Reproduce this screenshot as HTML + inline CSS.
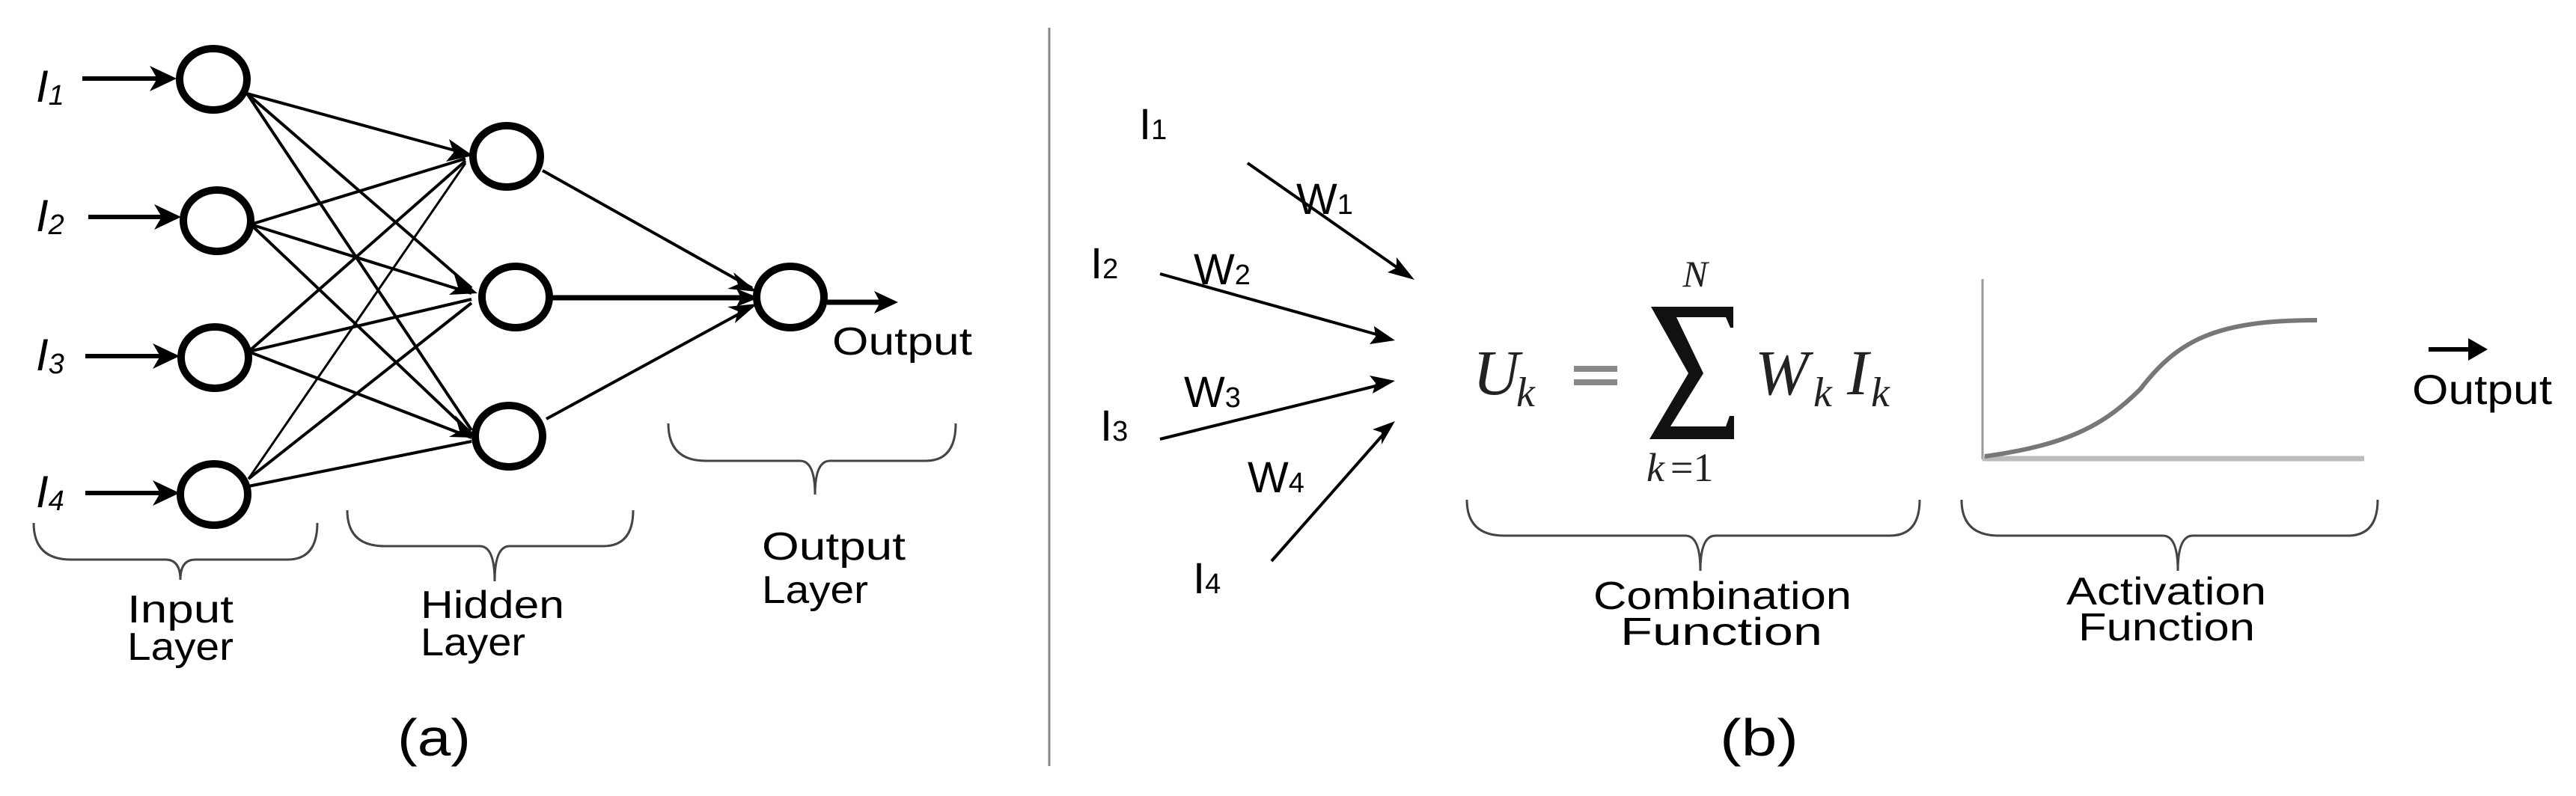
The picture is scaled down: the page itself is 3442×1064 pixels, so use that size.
<!DOCTYPE html>
<html><head><meta charset="utf-8"><style>html,body{margin:0;padding:0;background:#fff}svg{display:block}</style></head><body>
<svg width="3442" height="1064" viewBox="0 0 3442 1064" xmlns="http://www.w3.org/2000/svg" font-family="Liberation Sans, sans-serif">
<g id="a" stroke="#000" fill="none">
<g stroke-width="6">
<line x1="110" y1="105" x2="222" y2="105"/>
<line x1="118" y1="290" x2="228" y2="290"/>
<line x1="114" y1="476" x2="226" y2="476"/>
<line x1="114" y1="659" x2="226" y2="659"/>
<line x1="1105" y1="404" x2="1180" y2="404" stroke-width="7"/>
</g>
<g fill="#000" stroke="none">
<polygon points="236,105 200,88 210,105 200,122"/>
<polygon points="242,290 206,273 216,290 206,307"/>
<polygon points="240,476 204,459 214,476 204,493"/>
<polygon points="240,659 204,642 214,659 204,676"/>
<polygon points="1200,404 1168,389 1176,404 1168,419"/>
</g>
<g stroke-width="4">
<line x1="330" y1="125" x2="622" y2="205"/>
<line x1="330" y1="125" x2="630" y2="385"/>
<line x1="330" y1="125" x2="630" y2="575"/>
<line x1="335" y1="300" x2="622" y2="212"/>
<line x1="335" y1="300" x2="630" y2="392"/>
<line x1="335" y1="300" x2="630" y2="580"/>
<line x1="332" y1="470" x2="622" y2="215"/>
<line x1="332" y1="470" x2="630" y2="400"/>
<line x1="332" y1="470" x2="630" y2="585"/>
<line x1="332" y1="640" x2="622" y2="218" stroke-width="3"/>
<line x1="332" y1="640" x2="630" y2="405"/>
<line x1="332" y1="650" x2="630" y2="590"/>
<line x1="725" y1="228" x2="1005" y2="385"/>
<line x1="738" y1="398" x2="1005" y2="398" stroke-width="7"/>
<line x1="730" y1="560" x2="1005" y2="410"/>
</g>
<g fill="#000" stroke="none">
<polygon points="632,208 600,186 606,204 596,216"/>
<polygon points="638,392 606,364 612,384 600,394"/>
<polygon points="638,585 608,555 614,576 600,584"/>
<polygon points="1012,390 980,364 986,380 972,386"/>
<polygon points="1014,398 984,386 990,398 984,410"/>
<polygon points="1012,406 972,410 986,416 982,432"/>
</g>
<g stroke-width="10" fill="#fff">
<ellipse cx="285" cy="106" rx="45" ry="41"/>
<ellipse cx="290" cy="295" rx="45" ry="41"/>
<ellipse cx="287" cy="478" rx="45" ry="41"/>
<ellipse cx="286" cy="661" rx="45" ry="41"/>
<ellipse cx="677" cy="209" rx="45" ry="41"/>
<ellipse cx="689" cy="397" rx="45" ry="41"/>
<ellipse cx="680" cy="583" rx="45" ry="41"/>
<ellipse cx="1056" cy="397" rx="45" ry="41"/>
</g>
<g stroke="#444" stroke-width="3">
<path d="M45,699 Q45,748 95,748 L221,748 Q241,748 241,775 Q241,748 261,748 L384,748 Q424,748 424,699"/>
<path d="M464,682 Q464,730 514,730 L641,730 Q661,730 661,777 Q661,730 681,730 L806,730 Q846,730 846,682"/>
<path d="M893,566 Q893,616 943,616 L1069,616 Q1089,616 1089,661 Q1089,616 1109,616 L1237,616 Q1277,616 1277,566"/>
<path d="M1960,668 Q1960,716 2010,716 L2252,716 Q2272,716 2272,763 Q2272,716 2292,716 L2525,716 Q2565,716 2565,668"/>
<path d="M2621,668 Q2621,716 2671,716 L2890,716 Q2910,716 2910,763 Q2910,716 2930,716 L3137,716 Q3177,716 3177,668"/>
</g>
</g>
<g font-size="52" fill="#000">
<text x="1112" y="474" textLength="187" lengthAdjust="spacingAndGlyphs">Output</text>
<text x="170" y="832" textLength="142" lengthAdjust="spacingAndGlyphs">Input</text>
<text x="170" y="882" textLength="142" lengthAdjust="spacingAndGlyphs">Layer</text>
<text x="562" y="826" textLength="192" lengthAdjust="spacingAndGlyphs">Hidden</text>
<text x="562" y="876" textLength="140" lengthAdjust="spacingAndGlyphs">Layer</text>
<text x="1018" y="748" textLength="192" lengthAdjust="spacingAndGlyphs">Output</text>
<text x="1018" y="806" textLength="142" lengthAdjust="spacingAndGlyphs">Layer</text>
<text x="531" y="1010" font-size="70" textLength="98" lengthAdjust="spacingAndGlyphs">(a)</text>
<text x="2298" y="1010" font-size="70" textLength="105" lengthAdjust="spacingAndGlyphs">(b)</text>
<text x="2129" y="814" textLength="345" lengthAdjust="spacingAndGlyphs">Combination</text>
<text x="2165" y="862" textLength="270" lengthAdjust="spacingAndGlyphs">Function</text>
<text x="2761" y="808" textLength="267" lengthAdjust="spacingAndGlyphs">Activation</text>
<text x="2777" y="856" textLength="236" lengthAdjust="spacingAndGlyphs">Function</text>
<text x="3223" y="540" font-size="56" textLength="187" lengthAdjust="spacingAndGlyphs">Output</text>
</g>
<g font-style="italic" font-size="60" fill="#000">
<text x="48" y="136">I<tspan font-size="38" dy="4">1</tspan></text>
<text x="48" y="309">I<tspan font-size="38" dy="4">2</tspan></text>
<text x="48" y="495">I<tspan font-size="38" dy="4">3</tspan></text>
<text x="48" y="678">I<tspan font-size="38" dy="4">4</tspan></text>
</g>
<line x1="1402" y1="37" x2="1402" y2="1024" stroke="#888" stroke-width="3"/>
<g font-size="58" fill="#000">
<text x="1522" y="186">I<tspan font-size="38">1</tspan></text>
<text x="1457" y="372">I<tspan font-size="38">2</tspan></text>
<text x="1470" y="589">I<tspan font-size="38">3</tspan></text>
<text x="1594" y="793">I<tspan font-size="38">4</tspan></text>
<text x="1732" y="286">W<tspan font-size="38">1</tspan></text>
<text x="1595" y="380">W<tspan font-size="38">2</tspan></text>
<text x="1582" y="544">W<tspan font-size="38">3</tspan></text>
<text x="1667" y="658">W<tspan font-size="38">4</tspan></text>
</g>
<g stroke="#000" stroke-width="4">
<line x1="1667" y1="218" x2="1876" y2="364"/>
<line x1="1550" y1="366" x2="1850" y2="450"/>
<line x1="1550" y1="587" x2="1850" y2="513"/>
<line x1="1699" y1="750" x2="1855" y2="573"/>
</g>
<g fill="#000">
<polygon points="1890,374 1854,364 1866,358 1866,344" />
<polygon points="1864,455 1830,460 1838,450 1836,436"/>
<polygon points="1864,509 1834,526 1838,512 1830,502"/>
<polygon points="1864,563 1846,594 1846,578 1834,574"/>
</g>
<g font-family="Liberation Serif, serif" font-style="italic" fill="#222">
<text x="1968" y="527" font-size="86">U</text>
<text x="2026" y="543" font-size="56">k</text>
<text x="2265" y="383" font-size="50" text-anchor="middle">N</text>
<text x="2200" y="643" font-size="54">k</text>
<text x="2345" y="527" font-size="86">W</text>
<text x="2423" y="543" font-size="56">k</text>
<text x="2468" y="527" font-size="86">I</text>
<text x="2500" y="543" font-size="56">k</text>
</g>
<g font-family="Liberation Serif, serif" fill="#222">
<text x="2232" y="643" font-size="54">=1</text>
</g>
<rect x="2103" y="489" width="58" height="8" fill="#888"/>
<rect x="2103" y="507" width="58" height="8" fill="#888"/>
<path d="M2206,410 L2316,410 L2316,438 L2312,438 L2306,424 L2240,424 L2276,499 L2232,570 L2306,570 L2311,556 L2317,556 L2317,587 L2204,587 L2256,499 Z" fill="#111"/>
<line x1="2649" y1="373" x2="2649" y2="614" stroke="#999" stroke-width="3"/>
<line x1="2649" y1="613" x2="3159" y2="613" stroke="#bbb" stroke-width="7"/>
<path d="M2652,610 C2760,595 2810,570 2860,520 C2910,455 2960,428 3096,428" stroke="#777" stroke-width="6" fill="none"/>
<line x1="3245" y1="467" x2="3300" y2="467" stroke="#000" stroke-width="6"/>
<polygon points="3324,467 3298,452 3298,482" fill="#000"/>
</svg>
</body></html>
